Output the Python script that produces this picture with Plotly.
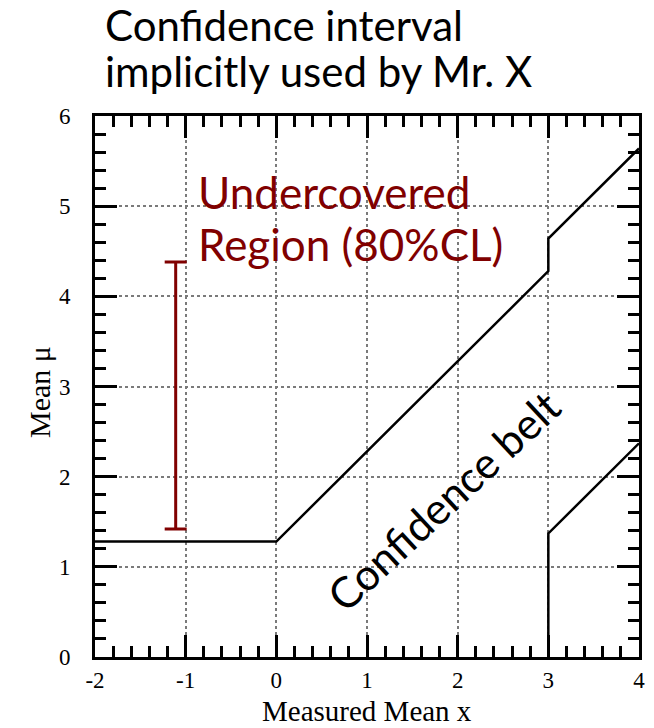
import plotly.graph_objects as go

# Upper edge of the confidence belt (mu_max vs measured x)
upper_x = [-2, 0, 3, 3, 4]
upper_y = [1.28, 1.28, 4.28, 4.64, 5.64]

# Lower edge of the confidence belt
lower_x = [3, 3, 4]
lower_y = [0, 1.37, 2.37]

# Interval quoted for the undercovered region
bar_x = [-1.11]
bar_low = [1.42]
bar_high = [4.38]

x_ticks = [-2, -1, 0, 1, 2, 3, 4]
x_labels = ["-2", "-1", "0", "1", "2", "3", "4"]
y_ticks = [0, 1, 2, 3, 4, 5, 6]

dark_red = "#800000"
sans = "Lato, 'Open Sans', sans-serif"
serif = "'Liberation Serif', 'Times New Roman', serif"

fig = go.Figure()

fig.add_trace(go.Scatter(x=upper_x, y=upper_y, mode="lines",
                         line=dict(color="black", width=2.5), showlegend=False))
fig.add_trace(go.Scatter(x=lower_x, y=lower_y, mode="lines",
                         line=dict(color="black", width=2.5), showlegend=False))
fig.add_trace(go.Scatter(
    x=bar_x, y=bar_low, mode="markers",
    marker=dict(size=1, color=dark_red, opacity=0),
    error_y=dict(type="data", symmetric=False,
                 array=[h - l for h, l in zip(bar_high, bar_low)],
                 arrayminus=[0] * len(bar_low),
                 color=dark_red, thickness=3, width=11),
    showlegend=False))

axis_common = dict(
    showline=True, linecolor="black", linewidth=3, mirror="ticks",
    ticks="inside", ticklen=22, tickwidth=3, tickcolor="black",
    showgrid=True, gridcolor="#7a7a7a", griddash="dot", gridwidth=1.5,
    zeroline=False,
    tickfont=dict(family=serif, size=23, color="black"),
    minor=dict(dtick=0.2, ticks="inside", ticklen=11, tickwidth=2.5,
               tickcolor="black", showgrid=False),
)

fig.update_xaxes(range=[-2, 4], tickvals=x_ticks, ticktext=x_labels,
                 ticklabelstandoff=0, **axis_common)
fig.update_yaxes(range=[0, 6], tickvals=y_ticks, ticklabelstandoff=17,
                 **axis_common)

annotations = [
    dict(text="Confidence interval", xref="paper", yref="paper",
         x=0.014, y=(657 - 25) / 541, xanchor="left", yanchor="middle",
         font=dict(family=sans, size=42, color="black")),
    dict(text="implicitly used by Mr. X", xref="paper", yref="paper",
         x=0.014, y=(657 - 71) / 541, xanchor="left", yanchor="middle",
         font=dict(family=sans, size=42, color="black")),
    dict(text="Undercovered", xref="paper", yref="paper",
         x=0.185, y=(657 - 192) / 541, xanchor="left", yanchor="middle",
         font=dict(family=sans, size=44, color=dark_red)),
    dict(text="Region (80%CL)", xref="paper", yref="paper",
         x=0.185, y=(657 - 244) / 541, xanchor="left", yanchor="middle",
         font=dict(family=sans, size=44, color=dark_red)),
    dict(text="Confidence belt", xref="x", yref="y",
         x=1.84, y=1.74, xanchor="center", yanchor="middle", textangle=-43,
         font=dict(family=sans, size=43, color="black")),
    dict(text="Mean μ", xref="paper", yref="paper",
         x=(39 - 95) / 544, y=(657 - 392) / 541, xanchor="center",
         yanchor="middle", textangle=-90,
         font=dict(family=serif, size=30, color="black")),
    dict(text="Measured Mean x", xref="paper", yref="paper",
         x=0.5, y=(657 - 711) / 541, xanchor="center", yanchor="middle",
         font=dict(family=serif, size=29, color="black")),
]
for a in annotations:
    a["showarrow"] = False
fig.update_layout(
    width=654, height=728,
    margin=dict(l=95, r=15, t=116, b=71, autoexpand=False),
    plot_bgcolor="white", paper_bgcolor="white",
    annotations=annotations,
)

fig.write_html("out.html")
